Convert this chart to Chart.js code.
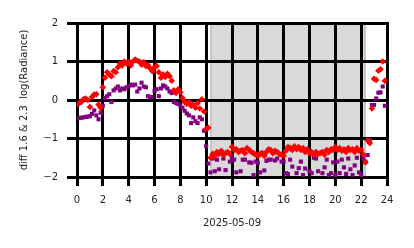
<!DOCTYPE html>
<html>
<head>
<meta charset="utf-8">
<script src="https://cdn.jsdelivr.net/npm/chart.js@4"></script>
<style>
    html, body { margin: 0; padding: 0; background: #fff; }
</style>
</head>
<body>
<canvas id="diffChart" width="414" height="248"></canvas>
<script>
// sample times, minutes after midnight
var minutes = [
    0, 10, 20, 30, 40, 50, 60, 70, 80, 90, 100, 110,
    120, 130, 140, 150, 160, 170, 180, 190, 200, 210, 220, 230,
    240, 250, 260, 270, 280, 290, 300, 310, 320, 330, 340, 350,
    360, 370, 380, 390, 400, 410, 420, 430, 440, 450, 460, 470,
    480, 490, 500, 510, 520, 530, 540, 550, 560, 570, 580, 590,
    600, 610, 620, 630, 640, 650, 660, 670, 680, 690, 700, 710,
    720, 730, 740, 750, 760, 770, 780, 790, 800, 810, 820, 830,
    840, 850, 860, 870, 880, 890, 900, 910, 920, 930, 940, 950,
    960, 970, 980, 990, 1000, 1010, 1020, 1030, 1040, 1050, 1060, 1070,
    1080, 1090, 1100, 1110, 1120, 1130, 1140, 1150, 1160, 1170, 1180, 1190,
    1200, 1210, 1220, 1230, 1240, 1250, 1260, 1270, 1280, 1290, 1300, 1310,
    1320, 1330, 1340, 1350, 1360, 1370, 1380, 1390, 1400, 1410, 1420, 1430
];

// diff 1.6 (red diamonds), one row per hour
var diff16 = [
    -0.12, -0.08, -0.05, 0.02, 0.04, 0.00,
    -0.18, 0.08, 0.14, 0.15, -0.12, -0.20,
    0.33, 0.58, 0.72, 0.66, 0.62, 0.75,
    0.72, 0.85, 0.95, 0.90, 1.00, 0.95,
    0.98, 0.90, 1.00, 1.05, 1.02, 1.00,
    0.92, 0.98, 0.88, 0.90, 0.82, 0.75,
    0.85, 0.88, 0.72, 0.58, 0.66, 0.60,
    0.68, 0.62, 0.50, 0.25, 0.18, 0.28,
    0.20, 0.05, -0.05, -0.10, -0.05, -0.15,
    -0.12, -0.20, -0.08, -0.22, 0.02, -0.30,
    -0.75, -0.72, -1.50, -1.40, -1.45, -1.35,
    -1.40, -1.32, -1.42, -1.38, -1.35, -1.40,
    -1.22, -1.30, -1.28, -1.35, -1.32, -1.30,
    -1.38, -1.25, -1.30, -1.35, -1.38, -1.42,
    -1.45, -1.40, -1.38, -1.45, -1.35, -1.28,
    -1.30, -1.38, -1.32, -1.35, -1.40, -1.42,
    -1.45, -1.32, -1.22, -1.25, -1.30, -1.20,
    -1.28, -1.22, -1.30, -1.25, -1.35, -1.28,
    -1.38, -1.35, -1.42, -1.35, -1.40, -1.38,
    -1.35, -1.42, -1.30, -1.35, -1.28, -1.30,
    -1.22, -1.30, -1.25, -1.32, -1.28, -1.35,
    -1.25, -1.30, -1.28, -1.35, -1.25, -1.32,
    -1.30, -1.42, -1.62, -1.05, -1.12, -0.22,
    0.55, 0.52, 0.76, 0.80, 1.00, 0.50
];

// diff 2.3 (purple squares)
var diff23 = [
    -0.48, -0.47, -0.46, -0.45, -0.44, -0.43,
    -0.42, -0.36, -0.27, -0.40, -0.50, -0.33,
    -0.15, 0.05, 0.10, 0.15, -0.05, 0.25,
    0.30, 0.35, 0.25, 0.30, 0.28, 0.33,
    0.35, 0.40, 0.38, 0.40, 0.22, 0.30,
    0.45, 0.35, 0.33, 0.10, 0.07, 0.08,
    0.23, 0.28, 0.10, 0.30, 0.38, 0.35,
    0.30, 0.22, 0.18, -0.05, -0.08, -0.10,
    -0.15, -0.20, -0.28, -0.35, -0.40, -0.60,
    -0.45, -0.55, -0.60, -0.45, -0.50, -0.80,
    -1.20, -1.65, -1.88, -1.52, -1.85, -1.55,
    -1.80, -2.10, -1.52, -1.82, -2.20, -1.60,
    -1.50, -1.55, -1.88, -2.10, -1.85, -1.55,
    -1.55, -2.20, -1.62, -1.63, -1.95, -1.60,
    -1.63, -1.88, -2.30, -1.83, -1.58, -1.55,
    -1.55, -2.10, -1.57, -1.52, -2.20, -1.60,
    -1.60, -1.90, -1.92, -1.55, -1.73, -2.10,
    -1.90, -1.77, -1.60, -1.95, -1.78, -2.20,
    -1.85, -1.90, -1.50, -1.52, -1.85, -2.10,
    -1.90, -1.75, -1.55, -1.95, -1.90, -1.62,
    -1.95, -1.60, -1.90, -1.55, -1.75, -1.92,
    -1.52, -1.80, -1.95, -1.70, -1.50, -1.88,
    -1.95, -1.52, -1.60, -1.43, -1.04, -0.13,
    -0.13, 0.04, 0.19, 0.20, 0.35, -0.15
];

// shaded period (hours)
var nightSpan = [10.33, 22.4];

var xTicks = [0, 2, 4, 6, 8, 10, 12, 14, 16, 18, 20, 22, 24];
var yTicks = [-2, -1, 0, 1, 2];

function toPoints(vals) {
    return vals.map(function (v, i) {
        return { x: minutes[i] / 60, y: v };
    });
}

// gray night band behind the grid, then black grid bars before the points
var nightShade = {
    id: "nightShade",
    beforeDraw: function (chart) {
        var c = chart.ctx;
        var area = chart.chartArea;
        var sx = chart.scales.x;
        var x0 = Math.round(sx.getPixelForValue(nightSpan[0]));
        var x1 = Math.round(sx.getPixelForValue(nightSpan[1]));
        c.save();
        c.fillStyle = "#d9d9d9";
        c.fillRect(x0, area.top, x1 - x0, area.bottom - area.top);
        c.fillStyle = "#c6c6c6";
        c.fillRect(x0, area.top, 2, area.bottom - area.top);
        c.fillRect(x1 - 2, area.top, 2, area.bottom - area.top);
        c.restore();
    },
    beforeDatasetsDraw: function (chart) {
        var c = chart.ctx;
        var area = chart.chartArea;
        var sx = chart.scales.x;
        var sy = chart.scales.y;
        var top = Math.round(area.top), bottom = Math.round(area.bottom);
        var left = Math.round(area.left), right = Math.round(area.right);
        c.save();
        c.fillStyle = "#000000";
        xTicks.forEach(function (t) {
            var px = Math.round(sx.getPixelForValue(t) - 1.5);
            c.fillRect(px, top - 1, 3, bottom - top + 2);
        });
        yTicks.forEach(function (t) {
            var py = Math.round(sy.getPixelForValue(t) - 1.5);
            c.fillRect(left - 1, py, right - left + 2, 3);
        });
        c.restore();
    }
};

var font = { family: "'DejaVu Sans'", size: 10 };

var diffChart = new Chart(document.getElementById("diffChart"), {
    type: "scatter",
    data: {
        datasets: [
            {
                label: "diff 1.6",
                data: toPoints(diff16),
                pointStyle: "rectRot",
                pointRadius: 3.3,
                pointBorderWidth: 0,
                backgroundColor: "#ff0000",
                clip: 0
            },
            {
                label: "diff 2.3",
                data: toPoints(diff23),
                pointStyle: "rect",
                pointRadius: 2.9,
                pointBorderWidth: 0,
                backgroundColor: "#800080",
                clip: 0
            }
        ]
    },
    options: {
        responsive: false,
        animation: false,
        layout: { padding: { top: 23, right: 27, left: 0, bottom: 0 } },
        plugins: {
            legend: { display: false }
        },
        scales: {
            x: {
                min: 0,
                max: 24,
                afterBuildTicks: function (s) {
                    s.ticks = xTicks.map(function (v) { return { value: v }; });
                },
                afterFit: function (s) { s.height = 71; },
                grid: { color: "#000", lineWidth: 3, tickLength: 9 },
                ticks: { color: "#222", font: font, padding: 8, maxRotation: 0 },
                title: { display: true, text: "2025-05-09", color: "#222", font: font, padding: { top: 0, bottom: 19 } }
            },
            y: {
                min: -2,
                max: 2,
                afterBuildTicks: function (s) {
                    s.ticks = yTicks.map(function (v) { return { value: v }; });
                },
                afterFit: function (s) { s.width = 77; },
                grid: { color: "#000", lineWidth: 3, tickLength: 10 },
                ticks: {
                    color: "#222",
                    font: font,
                    padding: 9,
                    callback: function (v) { return String(v).replace("-", "\u2212"); }
                },
                title: { display: true, text: "diff 1.6 & 2.3  log(Radiance)", color: "#222", font: font, padding: { top: 18, bottom: 0 } }
            }
        }
    },
    plugins: [nightShade]
});
</script>
</body>
</html>
